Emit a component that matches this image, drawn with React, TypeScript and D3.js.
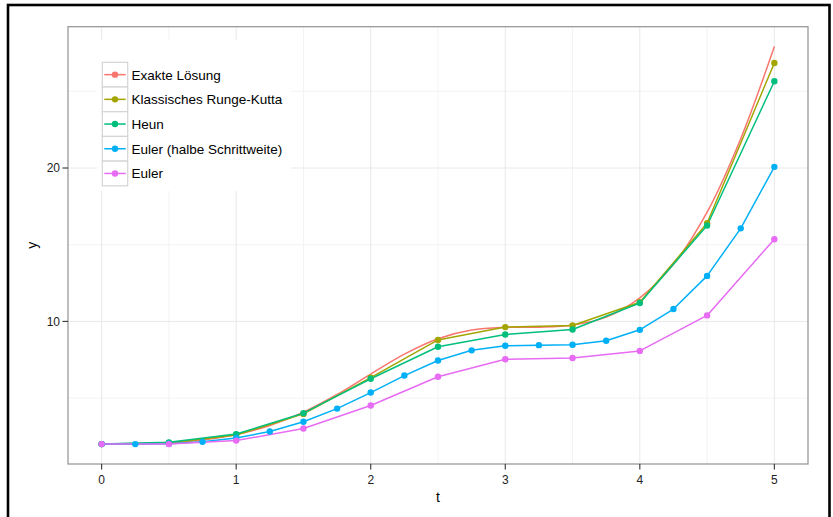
import React from "react";
import * as d3 from "d3";

// ---- data ----
const seriesNames = [
  "Exakte Lösung",
  "Klassisches Runge-Kutta",
  "Heun",
  "Euler (halbe Schrittweite)",
  "Euler",
];
const seriesColors = ["#F8766D", "#A3A500", "#00BF7D", "#00B0F6", "#E76BF3"];

const tQuarter = [0, 0.25, 0.5, 0.75, 1, 1.25, 1.5, 1.75, 2, 2.25, 2.5, 2.75, 3, 3.25, 3.5, 3.75, 4, 4.25, 4.5, 4.75, 5];
const tHalf = [0, 0.5, 1, 1.5, 2, 2.5, 3, 3.5, 4, 4.5, 5];

const exact = [2, 2.01, 2.081, 2.268, 2.627, 3.217, 4.087, 5.237, 6.569, 7.865, 8.871, 9.438, 9.611, 9.624, 9.765, 10.278, 11.539, 13.717, 17.117, 21.911, 27.916];
const rungeKutta = [2, 2.08, 2.6, 3.97, 6.33, 8.79, 9.63, 9.73, 11.25, 16.4, 26.85];
const heun = [2, 2.115, 2.654, 4.018, 6.26, 8.347, 9.143, 9.473, 11.204, 16.251, 25.654];
const eulerHalf = [2, 2, 2.031, 2.147, 2.397, 2.821, 3.456, 4.316, 5.361, 6.469, 7.448, 8.114, 8.41, 8.452, 8.477, 8.737, 9.451, 10.804, 12.968, 16.065, 20.076];
const euler = [2, 2, 2.23, 3.019, 4.521, 6.39, 7.535, 7.61, 8.078, 10.392, 15.357];

const xTicks = [0, 1, 2, 3, 4, 5];
const xMinor = [0.5, 1.5, 2.5, 3.5, 4.5];
const yTicks = [10, 20];
const yMinor = [5, 15, 25];

type Pt = [number, number];
const zip = (ts: number[], ys: number[]): Pt[] => ts.map((t, i) => [t, ys[i]]);

const series: { name: string; color: string; pts: Pt[]; points: boolean; smooth: boolean }[] = [
  { name: seriesNames[0], color: seriesColors[0], pts: zip(tQuarter, exact), points: false, smooth: true },
  { name: seriesNames[1], color: seriesColors[1], pts: zip(tHalf, rungeKutta), points: true, smooth: false },
  { name: seriesNames[2], color: seriesColors[2], pts: zip(tHalf, heun), points: true, smooth: false },
  { name: seriesNames[3], color: seriesColors[3], pts: zip(tQuarter, eulerHalf), points: true, smooth: false },
  { name: seriesNames[4], color: seriesColors[4], pts: zip(tHalf, euler), points: true, smooth: false },
];

export default function App() {
  const W = 833, H = 517;
  const pL = 68, pR = 808, pT = 26.7, pB = 464;

  const allY = [...exact, ...rungeKutta, ...heun, ...eulerHalf, ...euler];
  const yLo = d3.min(allY)!, yHi = d3.max(allY)!;
  const yPad = (yHi - yLo) * 0.05;
  const x = d3.scaleLinear().domain([-0.25, 5.25]).range([pL, pR]);
  const y = d3.scaleLinear().domain([yLo - yPad, yHi + yPad]).range([pB, pT]);

  const lineStraight = d3.line<Pt>().x((d) => x(d[0])).y((d) => y(d[1]));
  const lineSmooth = d3
    .line<Pt>()
    .x((d) => x(d[0]))
    .y((d) => y(d[1]))
    .curve(d3.curveCatmullRom.alpha(0.5));

  const font = "'Liberation Sans', Arial, Helvetica, sans-serif";
  const legX = 102.3, legY = 62.3, keyW = 25.4, rowH = 24.7;

  return (
    <svg
      width={W}
      height={H}
      style={{ position: "absolute", left: 0, top: 0, display: "block", background: "#fff" }}
      fontFamily={font}
    >
      <rect x={0} y={0} width={W} height={H} fill="#fff" />
      {/* panel */}
      <rect x={pL} y={pT} width={pR - pL} height={pB - pT} fill="#fff" />
      {/* minor grid */}
      {xMinor.map((v) => (
        <line key={"xm" + v} x1={x(v)} x2={x(v)} y1={pT} y2={pB} stroke="#f3f3f3" strokeWidth={1} />
      ))}
      {yMinor.map((v) => (
        <line key={"ym" + v} x1={pL} x2={pR} y1={y(v)} y2={y(v)} stroke="#f3f3f3" strokeWidth={1} />
      ))}
      {/* major grid */}
      {xTicks.map((v) => (
        <line key={"xg" + v} x1={x(v)} x2={x(v)} y1={pT} y2={pB} stroke="#e8e8e8" strokeWidth={1} />
      ))}
      {yTicks.map((v) => (
        <line key={"yg" + v} x1={pL} x2={pR} y1={y(v)} y2={y(v)} stroke="#e8e8e8" strokeWidth={1} />
      ))}

      {/* lines */}
      {series.map((s) => (
        <path
          key={"l" + s.name}
          d={(s.smooth ? lineSmooth : lineStraight)(s.pts) || ""}
          fill="none"
          stroke={s.color}
          strokeWidth={1.5}
          strokeLinejoin="round"
        />
      ))}
      {/* points */}
      {series
        .filter((s) => s.points)
        .map((s) =>
          s.pts.map((p, i) => (
            <circle key={"p" + s.name + i} cx={x(p[0])} cy={y(p[1])} r={3.2} fill={s.color} />
          ))
        )}

      {/* legend */}
      <rect x={97} y={40} width={194} height={151} fill="#fff" />
      {series.map((s, i) => {
        const ry = legY + i * rowH;
        const cy = ry + rowH / 2;
        return (
          <g key={"lg" + s.name}>
            <rect x={legX} y={ry} width={keyW} height={rowH} fill="#fff" stroke="#d4d4d4" strokeWidth={1.2} />
            <line x1={legX + 2} x2={legX + keyW - 2} y1={cy} y2={cy} stroke={s.color} strokeWidth={1.5} />
            <circle cx={legX + keyW / 2} cy={cy} r={3.2} fill={s.color} />
            <text x={131.5} y={cy} dy="0.36em" fontSize={13.5} fill="#000">
              {s.name}
            </text>
          </g>
        );
      })}

      {/* panel border */}
      <rect x={pL} y={pT} width={pR - pL} height={pB - pT} fill="none" stroke="#9a9a9a" strokeWidth={1.3} />

      {/* x axis */}
      {xTicks.map((v) => (
        <g key={"xt" + v}>
          <line x1={x(v)} x2={x(v)} y1={pB} y2={pB + 5.5} stroke="#333" strokeWidth={1.1} />
          <text x={x(v)} y={484} textAnchor="middle" fontSize={12} fill="#222">
            {v}
          </text>
        </g>
      ))}
      {yTicks.map((v) => (
        <g key={"yt" + v}>
          <line x1={pL - 5.5} x2={pL} y1={y(v)} y2={y(v)} stroke="#333" strokeWidth={1.1} />
          <text x={pL - 8} y={y(v)} dy="0.36em" textAnchor="end" fontSize={12} fill="#222">
            {v}
          </text>
        </g>
      ))}
      <text x={(pL + pR) / 2} y={502} textAnchor="middle" fontSize={14} fill="#000">
        t
      </text>
      <text
        transform={`translate(37,${(pT + pB) / 2}) rotate(-90)`}
        textAnchor="middle"
        fontSize={14}
        fill="#000"
      >
        y
      </text>

      {/* outer black frame */}
      <rect x={8} y={5} width={821.5} height={600} fill="none" stroke="#000" strokeWidth={2.6} />
    </svg>
  );
}
